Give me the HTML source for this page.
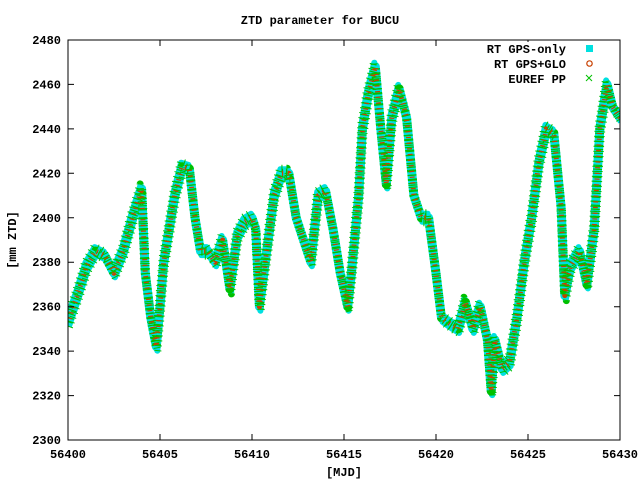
<!DOCTYPE html>
<html><head><meta charset="utf-8"><style>
body{margin:0;background:#fff}
svg text{font-family:"Liberation Mono",monospace;font-size:12px;font-weight:bold;fill:#000}
</style></head><body>
<svg width="640" height="480" xmlns="http://www.w3.org/2000/svg">
<rect width="640" height="480" fill="#fff"/>
<defs>
<polyline id="c" fill="none" stroke-linejoin="round" points="68,322.2 77.2,295.6 86.4,266.7 95.6,251.1 104.8,255.6 114,273.3 123.2,251.1 132.4,217.8 141.6,188.9 145.3,273.3 150.8,317.8 156.3,346.7 160,306.7 163.7,262.2 169.2,228.9 174.7,195.6 182.1,166.7 189.4,168.9 195,217.8 200.5,251.1 207.8,251.1 215.2,262.2 222.6,240 229.9,288.9 237.3,235.6 244.6,222.2 252,217.8 255.7,228.9 259.4,306.7 266.7,251.1 274.1,195.6 281.4,173.3 288.8,173.3 296.2,217.8 303.5,240 310.9,262.2 318.2,195.6 325.6,191.1 333,228.9 340.3,273.3 347.7,306.7 351.4,273.3 358.7,195.6 362.4,128.9 367.9,95.6 375.3,66.7 380.8,128.9 386.3,184.4 391.8,117.8 399.2,88.9 406.6,117.8 413.9,195.6 421.3,217.8 428.6,217.8 436,273.3 441.5,317.8 450.7,324.4 458.1,328.9 465.4,302.2 472.8,328.9 480.2,306.7 487.5,340 491.2,391.1 494.9,340 502.2,368.9 509.6,362.2 517,317.8 524.3,262.2 531.7,217.8 539,162.2 546.4,128.9 553.8,133.3 561.1,206.7 564.8,295.6 570.3,266.7 579.5,251.1 586.9,284.4 594.2,228.9 599.8,128.9 607.1,84.4 612.6,106.7 620,117.8"/>
<clipPath id="cp"><rect x="68" y="40" width="552" height="400"/></clipPath>
</defs>
<g clip-path="url(#cp)">
<use href="#c" stroke="#00e0e0" stroke-width="6" transform="translate(1,4)"/>
<use href="#c" stroke="#00e0e0" stroke-width="6" transform="translate(-1,-4)"/>
<use href="#c" stroke="#00e0e0" stroke-width="9"/>
<use href="#c" stroke="#00c000" stroke-width="7" stroke-dasharray="1 4" transform="translate(1.5,5)"/>
<use href="#c" stroke="#00c000" stroke-width="7" stroke-dasharray="1 4" transform="translate(-1.5,-5)"/>
<use href="#c" stroke="#00c000" stroke-width="9" stroke-dasharray="1.2 2.8"/>
<use href="#c" stroke="#c84000" stroke-width="5" stroke-dasharray="1.2 4.5" stroke-dashoffset="2"/>
</g>
<rect x="68" y="40" width="552" height="400" fill="none" stroke="#000" stroke-width="1"/>
<g stroke="#000">
<path d="M68 40h6M620 40h-6M68 84.4h6M620 84.4h-6M68 128.9h6M620 128.9h-6M68 173.3h6M620 173.3h-6M68 217.8h6M620 217.8h-6M68 262.2h6M620 262.2h-6M68 306.7h6M620 306.7h-6M68 351.1h6M620 351.1h-6M68 395.6h6M620 395.6h-6M68 440h6M620 440h-6"/>
<path d="M160 440v-6M160 40v6M252 440v-6M252 40v6M344 440v-6M344 40v6M436 440v-6M436 40v6M528 440v-6M528 40v6"/>
</g>
<g text-anchor="end">
<text x="61" y="44">2480</text><text x="61" y="88.4">2460</text><text x="61" y="132.9">2440</text><text x="61" y="177.3">2420</text><text x="61" y="221.8">2400</text><text x="61" y="266.2">2380</text><text x="61" y="310.7">2360</text><text x="61" y="355.1">2340</text><text x="61" y="399.6">2320</text><text x="61" y="444">2300</text>
</g>
<g text-anchor="middle">
<text x="68" y="458">56400</text><text x="160" y="458">56405</text><text x="252" y="458">56410</text><text x="344" y="458">56415</text><text x="436" y="458">56420</text><text x="528" y="458">56425</text><text x="620" y="458">56430</text>
</g>
<text x="320" y="24" text-anchor="middle">ZTD parameter for BUCU</text>
<text x="344" y="476" text-anchor="middle">[MJD]</text>
<text x="16" y="240" text-anchor="middle" transform="rotate(-90 16 240)">[mm ZTD]</text>
<rect x="470" y="42" width="128" height="42" fill="#fff"/>
<text x="566" y="53" text-anchor="end">RT GPS-only</text>
<text x="566" y="68" text-anchor="end">RT GPS+GLO</text>
<text x="566" y="83" text-anchor="end">EUREF PP</text>
<rect x="586" y="45" width="7" height="7" fill="#00e0e0"/>
<circle cx="589.5" cy="63.5" r="2.7" fill="none" stroke="#c84000" stroke-width="1.2"/>
<path d="M586 75l6 6M592 75l-6 6" stroke="#00c000" stroke-width="1"/>
</svg>
</body></html>
